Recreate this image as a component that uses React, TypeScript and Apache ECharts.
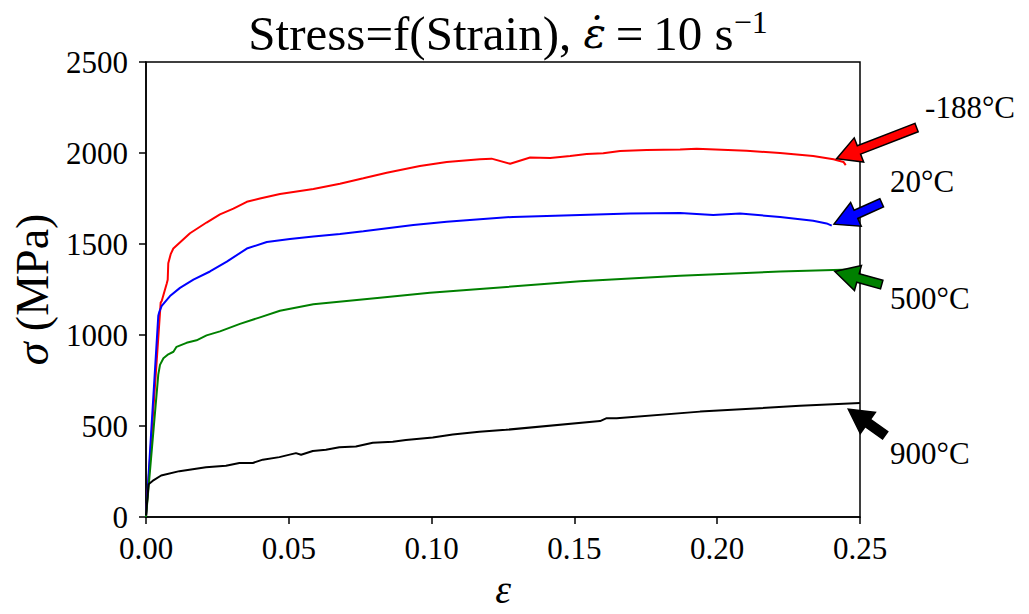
import React, { useEffect, useRef } from "react";
import * as echarts from "echarts";

// ---- data (strain ε, stress σ in MPa) ----
const redStrain = [0, 0.00514, 0.0055, 0.00724, 0.0076, 0.0078, 0.00864, 0.00957, 0.0154, 0.0212, 0.0259, 0.0306, 0.0353, 0.0399, 0.0469, 0.0586, 0.0679, 0.0761, 0.0843, 0.0959, 0.1053, 0.1169, 0.121, 0.1275, 0.1345, 0.1415, 0.1485, 0.1543, 0.1601, 0.166, 0.1753, 0.187, 0.1928, 0.2103, 0.222, 0.2336, 0.2407, 0.2442, 0.245];
const redStress = [0, 1178, 1187, 1282, 1304, 1394, 1444, 1475, 1559, 1618, 1663, 1694, 1732, 1750, 1775, 1802, 1831, 1861, 1892, 1928, 1951, 1965, 1969, 1941, 1975, 1973, 1984, 1994, 1999, 2011, 2016, 2019, 2023, 2012, 2000, 1984, 1966, 1951, 1933];

const blueStrain = [0, 0.0043, 0.0046, 0.0055, 0.0084, 0.0119, 0.0166, 0.0224, 0.0283, 0.0353, 0.0423, 0.0504, 0.0586, 0.0679, 0.0761, 0.0936, 0.1053, 0.1169, 0.1286, 0.152, 0.1695, 0.187, 0.1986, 0.208, 0.222, 0.2336, 0.2383, 0.2401];
const blueStress = [0, 1106, 1124, 1160, 1214, 1259, 1304, 1349, 1403, 1475, 1511, 1528, 1541, 1555, 1570, 1604, 1622, 1636, 1649, 1660, 1667, 1671, 1660, 1667, 1649, 1628, 1613, 1601];

const greenStrain = [0, 0.0043, 0.0049, 0.0061, 0.0078, 0.0096, 0.0107, 0.0142, 0.0177, 0.0212, 0.0259, 0.0329, 0.0399, 0.0469, 0.0586, 0.0819, 0.0994, 0.1169, 0.152, 0.187, 0.222, 0.25];
const greenStress = [0, 782, 836, 872, 894, 908, 935, 957, 971, 998, 1020, 1061, 1097, 1133, 1169, 1205, 1232, 1253, 1295, 1326, 1349, 1361];

const blackStrain = [0, 0.0009, 0.0023, 0.0053, 0.0117, 0.021, 0.028, 0.0327, 0.0374, 0.0409, 0.0467, 0.0525, 0.0543, 0.0584, 0.063, 0.0677, 0.0735, 0.0794, 0.0864, 0.091, 0.1004, 0.1074, 0.1167, 0.126, 0.159, 0.1613, 0.1648, 0.194, 0.229, 0.25];
const blackStress = [9, 180, 198, 228, 252, 273, 282, 297, 297, 315, 329, 351, 342, 363, 369, 383, 387, 408, 414, 423, 437, 453, 468, 479, 527, 543, 543, 579, 611, 626];

const xTicks = [0, 0.05, 0.1, 0.15, 0.2, 0.25];
const yTicks = [0, 500, 1000, 1500, 2000, 2500];

// annotations: label text, label position, arrow tail, arrow tip (data coords)
const labelTexts = ["-188°C", "20°C", "500°C", "900°C"];
const labelStrain = [0.2728, 0.2605, 0.2605, 0.2605];
const labelStress = [2250, 1845, 1198, 351];
const arrowColors = ["#ff0000", "#0000ff", "#008000", "#000000"];
const arrowTailStrain = [0.2698, 0.2576, 0.2576, 0.2588];
const arrowTailStress = [2140, 1726, 1277, 449];
const arrowTipStrain = [0.2418, 0.2409, 0.2412, 0.2459];
const arrowTipStress = [1969, 1609, 1349, 593];

const FONT = "Liberation Serif";

function zip(a: number[], b: number[]) {
  return a.map((v, i) => [v, b[i]]);
}

export default function App() {
  const ref = useRef<HTMLDivElement>(null);
  useEffect(() => {
    if (!ref.current) return;
    const chart = echarts.init(ref.current, undefined, { renderer: "svg" });
    const mkLine = (name: string, color: string, xs: number[], ys: number[]) => ({
      name,
      type: "line",
      data: zip(xs, ys),
      showSymbol: false,
      symbol: "none",
      lineStyle: { color, width: 2 },
      itemStyle: { color },
      z: 3,
    });
    chart.setOption({
      animation: false,
      title: {
        text: "{a|Stress=f(Strain), }{e|ε̇}{a|\u2009=\u200910 s}{b|−1}",
        left: 503,
        top: 1,
        textAlign: "center",
        textStyle: {
          fontWeight: "normal",
          rich: {
            a: { fontFamily: FONT, fontSize: 49, fontWeight: "normal", color: "#000", lineHeight: 54 },
            e: { fontFamily: "DejaVu Serif", fontSize: 42, fontStyle: "italic", fontWeight: "normal", color: "#000", lineHeight: 54 },
            b: { fontFamily: FONT, fontSize: 32, fontWeight: "normal", color: "#000", verticalAlign: "top", lineHeight: 36 },
          },
        },
      },
      grid: {
        left: 146,
        right: 169,
        top: 62,
        bottom: 89,
        show: true,
        borderColor: "#000",
        borderWidth: 1.5,
        backgroundColor: "transparent",
      },
      xAxis: {
        type: "value",
        min: xTicks[0],
        max: xTicks[xTicks.length - 1],
        interval: xTicks[1] - xTicks[0],
        name: "ε",
        nameLocation: "middle",
        nameGap: 52,
        nameTextStyle: { fontFamily: FONT, fontSize: 40, fontStyle: "italic", fontWeight: "normal", color: "#000" },
        axisLine: { show: true, lineStyle: { color: "#000", width: 1.5 } },
        axisTick: { show: true, inside: false, length: 7, lineStyle: { color: "#000", width: 1.5 } },
        axisLabel: {
          fontFamily: FONT,
          fontSize: 31,
          color: "#000",
          margin: 16,
          formatter: (v: number) => v.toFixed(2),
        },
        splitLine: { show: false },
      },
      yAxis: {
        type: "value",
        min: yTicks[0],
        max: yTicks[yTicks.length - 1],
        interval: yTicks[1] - yTicks[0],
        name: "{i|σ} (MPa)",
        nameLocation: "middle",
        nameGap: 84,
        nameRotate: 90,
        nameTextStyle: {
          fontFamily: FONT,
          fontSize: 46,
          fontWeight: "normal",
          color: "#000",
          rich: { i: { fontFamily: FONT, fontSize: 46, fontStyle: "italic", fontWeight: "normal", color: "#000" } },
        },
        axisLine: { show: true, lineStyle: { color: "#000", width: 1.5 } },
        axisTick: { show: true, inside: false, length: 7, lineStyle: { color: "#000", width: 1.5 } },
        axisLabel: { fontFamily: FONT, fontSize: 31, color: "#000", margin: 18, formatter: (v: number) => String(v) },
        splitLine: { show: false },
      },
      series: [
        mkLine("-188°C", "#ff0000", redStrain, redStress),
        mkLine("20°C", "#0000ff", blueStrain, blueStress),
        mkLine("500°C", "#008000", greenStrain, greenStress),
        mkLine("900°C", "#000000", blackStrain, blackStress),
      ],
    });

    const graphics: any[] = [];
    const shaftHalf = 4.5;
    const headHalf = 13;
    const headLen = 24;
    for (let i = 0; i < labelTexts.length; i++) {
      const lp = chart.convertToPixel({ gridIndex: 0 }, [labelStrain[i], labelStress[i]]) as number[];
      graphics.push({
        type: "text",
        x: lp[0],
        y: lp[1],
        z: 10,
        style: {
          text: labelTexts[i],
          font: `31px "${FONT}"`,
          fill: "#000",
          textAlign: "left",
          textVerticalAlign: "middle",
          align: "left",
          verticalAlign: "middle",
        },
      });
      const s = chart.convertToPixel({ gridIndex: 0 }, [arrowTailStrain[i], arrowTailStress[i]]) as number[];
      const t = chart.convertToPixel({ gridIndex: 0 }, [arrowTipStrain[i], arrowTipStress[i]]) as number[];
      const dx = t[0] - s[0];
      const dy = t[1] - s[1];
      const len = Math.sqrt(dx * dx + dy * dy);
      const ux = dx / len;
      const uy = dy / len;
      const nx = -uy;
      const ny = ux;
      const bx = t[0] - ux * headLen;
      const by = t[1] - uy * headLen;
      const pts = [
        [s[0] + nx * shaftHalf, s[1] + ny * shaftHalf],
        [bx + nx * shaftHalf, by + ny * shaftHalf],
        [bx + nx * headHalf, by + ny * headHalf],
        [t[0], t[1]],
        [bx - nx * headHalf, by - ny * headHalf],
        [bx - nx * shaftHalf, by - ny * shaftHalf],
        [s[0] - nx * shaftHalf, s[1] - ny * shaftHalf],
      ];
      graphics.push({
        type: "polygon",
        z: 10,
        shape: { points: pts },
        style: { fill: arrowColors[i], stroke: "#000", lineWidth: 1.5, lineJoin: "miter" },
      });
    }
    chart.setOption({ graphic: graphics });

    return () => chart.dispose();
  }, []);
  return (
    <div
      ref={ref}
      style={{ position: "fixed", left: 0, top: 0, width: 1029, height: 614, background: "#fff" }}
    />
  );
}
